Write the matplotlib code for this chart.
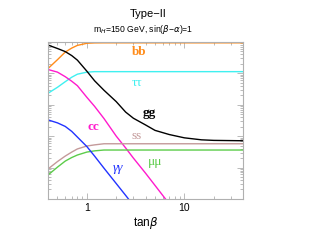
import numpy as np
import matplotlib
matplotlib.use("Agg")
from matplotlib import pyplot as plt
from matplotlib.ticker import LogLocator, NullFormatter, FixedLocator, FixedFormatter

# tan(beta) sample points
TANB = [0.4, 0.5, 0.6, 0.7, 0.8, 1.0, 1.2, 1.5, 2.0, 2.5, 3.0, 4.0, 5.0, 7.0, 10.0, 15.0, 20.0, 40.0]

# branching ratios
BR_BB = [0.141, 0.27, 0.469, 0.63, 0.767, 0.895, 0.92, 0.925, 0.925, 0.925, 0.925, 0.925, 0.925, 0.925, 0.925, 0.925, 0.925, 0.925]
BR_TAUTAU = [0.023, 0.0357, 0.0536, 0.0745, 0.093, 0.108, 0.112, 0.112, 0.112, 0.112, 0.112, 0.112, 0.112, 0.112, 0.112, 0.112, 0.112, 0.112]
BR_GG = [0.785, 0.61, 0.487, 0.363, 0.26, 0.116, 0.0575, 0.0286, 0.0125, 0.0058, 0.0037, 0.00226, 0.00152, 0.00112, 0.00088, 0.00076, 0.00073, 0.00071]
BR_CC = [0.131, 0.108, 0.0775, 0.0555, 0.04, 0.0171, 0.00883, 0.0036, 0.001, 4.2e-4, 2.0e-4, 6.6e-5, 2.7e-5, 7.0e-6, 1.7e-6, 3.4e-7, 1.1e-7, 7e-9]
BR_SS = [9.0e-5, 1.55e-4, 2.31e-4, 3.1e-4, 3.9e-4, 4.83e-4, 5.25e-4, 5.7e-4, 5.7e-4, 5.7e-4, 5.7e-4, 5.7e-4, 5.7e-4, 5.7e-4, 5.7e-4, 5.7e-4, 5.7e-4, 5.7e-4]
BR_MUMU = [5.8e-5, 1.03e-4, 1.6e-4, 2.08e-4, 2.5e-4, 3.1e-4, 3.39e-4, 3.6e-4, 3.6e-4, 3.6e-4, 3.6e-4, 3.6e-4, 3.6e-4, 3.6e-4, 3.6e-4, 3.6e-4, 3.6e-4, 3.6e-4]
BR_GAMGAM = [0.00327, 0.00263, 0.00203, 0.00141, 9.3e-4, 4.65e-4, 2.31e-4, 9.5e-5, 3.1e-5, 1.3e-5, 6.3e-6, 2e-6, 8e-7, 2e-7, 5e-8, 1e-8, 3e-9, 2e-10]

X_TICKS = [1, 10]
X_TICK_LABELS = ["1", "10"]

SERIF = "Liberation Serif"
SANS = "Liberation Sans"


def main():
    fig = plt.figure(figsize=(3.1, 2.4), dpi=100)
    ax = fig.add_axes([0.155, 0.171, 0.629, 0.655])

    lw = 1.0
    ax.plot(TANB, BR_BB, color="#ff8c1a", lw=lw)
    ax.plot(TANB, BR_TAUTAU, color="#40f0f0", lw=lw)
    ax.plot(TANB, BR_GG, color="black", lw=lw)
    ax.plot(TANB, BR_CC, color="#ff1acd", lw=lw)
    ax.plot(TANB, BR_SS, color="#c49a9a", lw=lw)
    ax.plot(TANB, BR_MUMU, color="#5ccc4a", lw=lw)
    ax.plot(TANB, BR_GAMGAM, color="#2233ff", lw=lw)

    ax.set_xscale("log")
    ax.set_yscale("log")
    ax.set_xlim(0.4, 40)
    ax.set_ylim(1e-5, 1)

    ax.xaxis.set_major_locator(FixedLocator(X_TICKS))
    ax.xaxis.set_major_formatter(FixedFormatter(X_TICK_LABELS))
    ax.xaxis.set_minor_locator(LogLocator(base=10, subs=np.arange(2, 10)))
    ax.xaxis.set_minor_formatter(NullFormatter())
    ax.yaxis.set_major_locator(LogLocator(base=10, numticks=10))
    ax.yaxis.set_minor_locator(LogLocator(base=10, subs=np.arange(2, 10), numticks=10))
    ax.yaxis.set_major_formatter(NullFormatter())
    ax.yaxis.set_minor_formatter(NullFormatter())

    ax.tick_params(which="both", direction="in", top=True, right=True, color="#b0b0b0", width=0.6)
    ax.tick_params(which="major", length=4, pad=3, labelsize=7.5)
    ax.tick_params(which="minor", length=2)
    for lab in ax.get_xticklabels():
        lab.set_fontfamily(SANS)
    for sp in ax.spines.values():
        sp.set_color("#b0b0b0")
        sp.set_linewidth(0.8)

    ax.set_xlabel(r"tan$\beta$", fontsize=8.5, family=SANS, labelpad=1)

    fig.text(0.478, 0.94, "Type\u2212II", ha="center", va="center", fontsize=8, family=SANS)
    fig.text(0.462, 0.878, "m$_H$=150 GeV, sin($\\beta$\u2212$\\alpha$)=1",
             ha="center", va="center", fontsize=6.2, family=SANS)

    # curve labels, placed in data coordinates
    kw = dict(fontsize=9.5, family=SERIF, ha="center", va="center")
    ax.text(3.47, 0.46, "bb", color="#ff8c1a", fontweight="bold", **kw)
    ax.text(3.3, 0.05, "\u03c4\u03c4", color="#40f0f0", **kw)
    ax.text(4.4, 0.0055, "gg", color="black", fontweight="bold", **kw)
    ax.text(1.16, 0.0019, "cc", color="#ff1acd", fontweight="bold", **kw)
    ax.text(3.25, 9.7e-4, "ss", color="#c49a9a", **kw)
    ax.text(5.0, 1.47e-4, "\u03bc\u03bc", color="#5ccc4a", **kw)
    ax.text(2.1, 9.7e-5, "\u03b3\u03b3", color="#2233ff", style="italic", **kw)

    fig.savefig("out.png", dpi=100)


if __name__ == "__main__":
    main()
